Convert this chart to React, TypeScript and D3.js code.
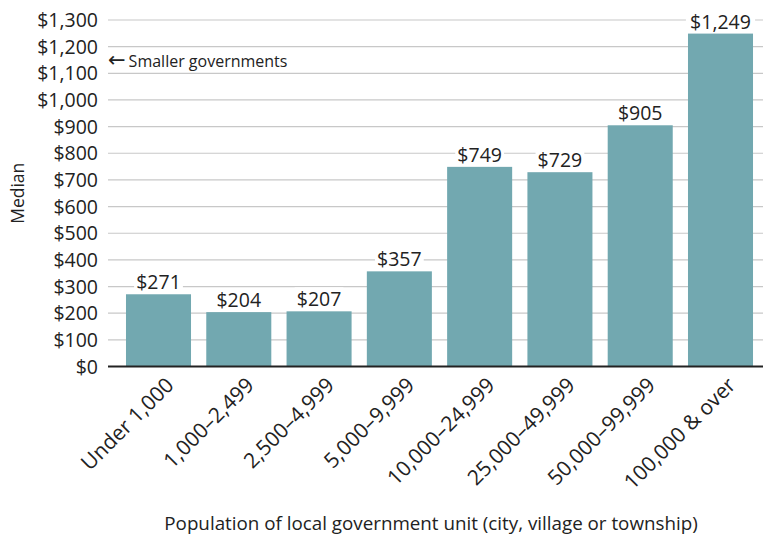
import React from "react";
import * as d3 from "d3";

const categories = ["Under 1,000", "1,000–2,499", "2,500–4,999", "5,000–9,999", "10,000–24,999", "25,000–49,999", "50,000–99,999", "100,000 & over"];
const values = [271, 204, 207, 357, 749, 729, 905, 1249];
const yTicks = [0, 100, 200, 300, 400, 500, 600, 700, 800, 900, 1000, 1100, 1200, 1300];

const W = 763, H = 539;
const FONT = "'Open Sans', sans-serif";
const TEXT = "#222";

export default function App() {
  const x = d3.scaleBand<string>().domain(categories).range([108, 771]).paddingInner(0.19).paddingOuter(0.224);
  const y = d3.scaleLinear().domain([0, 1300]).range([366.5, 20]);
  const fmt = (v: number) => "$" + d3.format(",")(v);
  return (
    <div style={{ position: "absolute", left: 0, top: 0 }}>
      <svg width={W} height={H} style={{ display: "block", background: "#fff" }} fontFamily={FONT}>
        {yTicks.map((t) => (
          <g key={t}>
            {t > 0 && <line x1={108} x2={W} y1={y(t)} y2={y(t)} stroke="#c8c8c8" strokeWidth={1.2} />}
            <text x={98} y={y(t)} dy="0.36em" textAnchor="end" fontSize={19.5} fill={TEXT}>{fmt(t)}</text>
          </g>
        ))}
        <text x={108} y={61} dy="0.36em" fontSize={16} fill={TEXT}>
          <tspan fontFamily="'DejaVu Sans', sans-serif" fontSize={21}>←</tspan>
          <tspan dx={3} fontSize={16}>Smaller governments</tspan>
        </text>
        {categories.map((c, i) => {
          const cx = (x(c) as number) + x.bandwidth() / 2;
          const lbl = fmt(values[i]);
          const tw = lbl.length * 10.2;
          return (
            <g key={c}>
              <rect x={x(c)} y={y(values[i])} width={x.bandwidth()} height={y(0) - y(values[i])} fill="#72a8b0" />
              <rect x={cx - tw / 2 - 4} y={y(values[i]) - 24} width={tw + 8} height={20} fill="#fff" />
              <text x={cx} y={y(values[i]) - 5} textAnchor="middle" fontSize={19.5} fill={TEXT}>{lbl}</text>
              <text transform={`translate(${cx + 6},${376}) rotate(-45)`} textAnchor="end" dy="0.7em" fontSize={21} fill={TEXT}>{c}</text>
            </g>
          );
        })}
        <line x1={108} x2={W} y1={y(0)} y2={y(0)} stroke="#222" strokeWidth={2.2} />
        <text transform={`translate(24,${y(650)}) rotate(-90)`} textAnchor="middle" fontSize={17.5} fill={TEXT}>Median</text>
        <text x={431} y={530} textAnchor="middle" fontSize={18.8} fill={TEXT}>Population of local government unit (city, village or township)</text>
      </svg>
    </div>
  );
}
